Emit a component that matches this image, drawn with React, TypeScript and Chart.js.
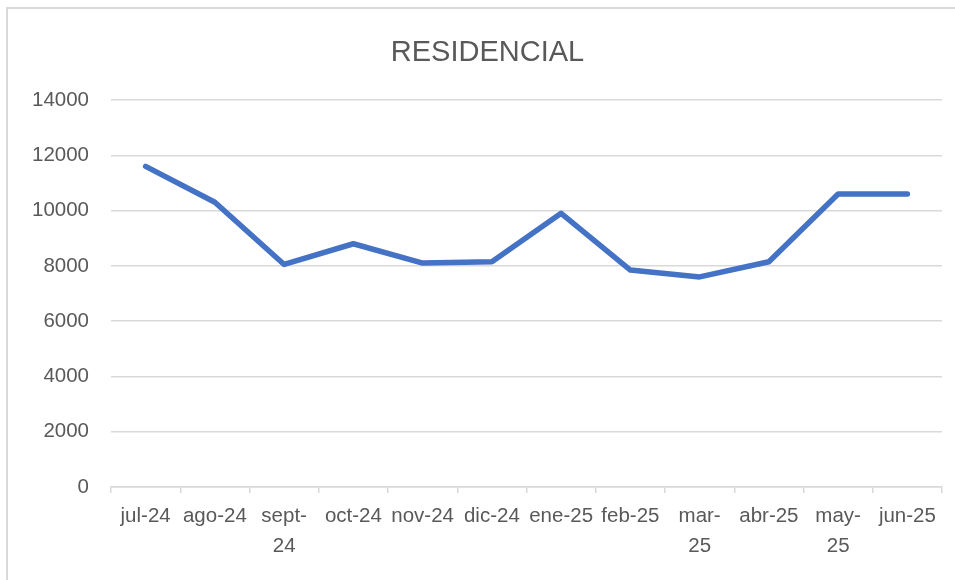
import React, { useEffect, useRef } from "react";
import { Chart, registerables } from "chart.js";

Chart.register(...registerables);

const categories: (string | string[])[] = [
  "jul-24",
  "ago-24",
  ["sept-", "24"],
  "oct-24",
  "nov-24",
  "dic-24",
  "ene-25",
  "feb-25",
  ["mar-", "25"],
  "abr-25",
  ["may-", "25"],
  "jun-25",
];

const residencial = [11600, 10300, 8050, 8800, 8100, 8150, 9900, 7850, 7600, 8150, 10600, 10600];

const yMin = 0;
const yMax = 14000;
const yStep = 2000;

const FONT = "'Liberation Sans', Arial, sans-serif";
const TEXT = "#595959";
const GRID = "#d9d9d9";

export default function App() {
  const ref = useRef<HTMLCanvasElement | null>(null);

  useEffect(() => {
    if (!ref.current) return;
    const chart = new Chart(ref.current, {
      type: "line",
      data: {
        labels: categories as any,
        datasets: [
          {
            label: "RESIDENCIAL",
            data: residencial,
            borderColor: "#4472C4",
            backgroundColor: "#4472C4",
            borderWidth: 5.5,
            borderCapStyle: "round",
            borderJoinStyle: "round",
            pointRadius: 0,
            tension: 0,
          },
        ],
      },
      options: {
        animation: false,
        responsive: false,
        maintainAspectRatio: false,
        layout: { padding: { top: 0, left: 33, right: 13, bottom: 0 } },
        plugins: {
          legend: { display: false },
          tooltip: { enabled: false },
          title: {
            display: true,
            text: "RESIDENCIAL",
            color: TEXT,
            font: { family: FONT, size: 29, weight: "normal", lineHeight: 1.2 },
            padding: { top: 36, bottom: 29.2 },
          },
        },
        scales: {
          x: {
            offset: true,
            grid: {
              offset: true,
              drawOnChartArea: false,
              drawTicks: true,
              tickLength: 6,
              color: GRID,
              lineWidth: 1.5,
            },
            border: { display: true, color: GRID, width: 1.5 },
            ticks: {
              color: TEXT,
              font: { family: FONT, size: 20.5, lineHeight: 1.47 },
              maxRotation: 0,
              minRotation: 0,
              autoSkip: false,
              padding: 8,
            },
            afterFit: (s: any) => {
              s.height = 93;
            },
          },
          y: {
            min: yMin,
            max: yMax,
            grid: { color: GRID, lineWidth: 1.5, drawTicks: false },
            border: { display: false },
            ticks: {
              stepSize: yStep,
              color: TEXT,
              font: { family: FONT, size: 20.5 },
              padding: 22,
              callback: (v: any) => String(v),
            },
            afterFit: (s: any) => {
              s.width = 78;
            },
          },
        },
      },
    });
    return () => chart.destroy();
  }, []);

  return (
    <div style={{ position: "fixed", left: 0, top: 0, width: 955, height: 580, background: "#fff", overflow: "hidden" }}>
      <div
        style={{
          position: "absolute",
          left: 6,
          top: 7,
          width: 1000,
          height: 700,
          borderLeft: "2px solid #d9d9d9",
          borderTop: "2px solid #d9d9d9",
        }}
      />
      <canvas ref={ref} width={955} height={580} style={{ position: "absolute", left: 0, top: 0 }} />
    </div>
  );
}
